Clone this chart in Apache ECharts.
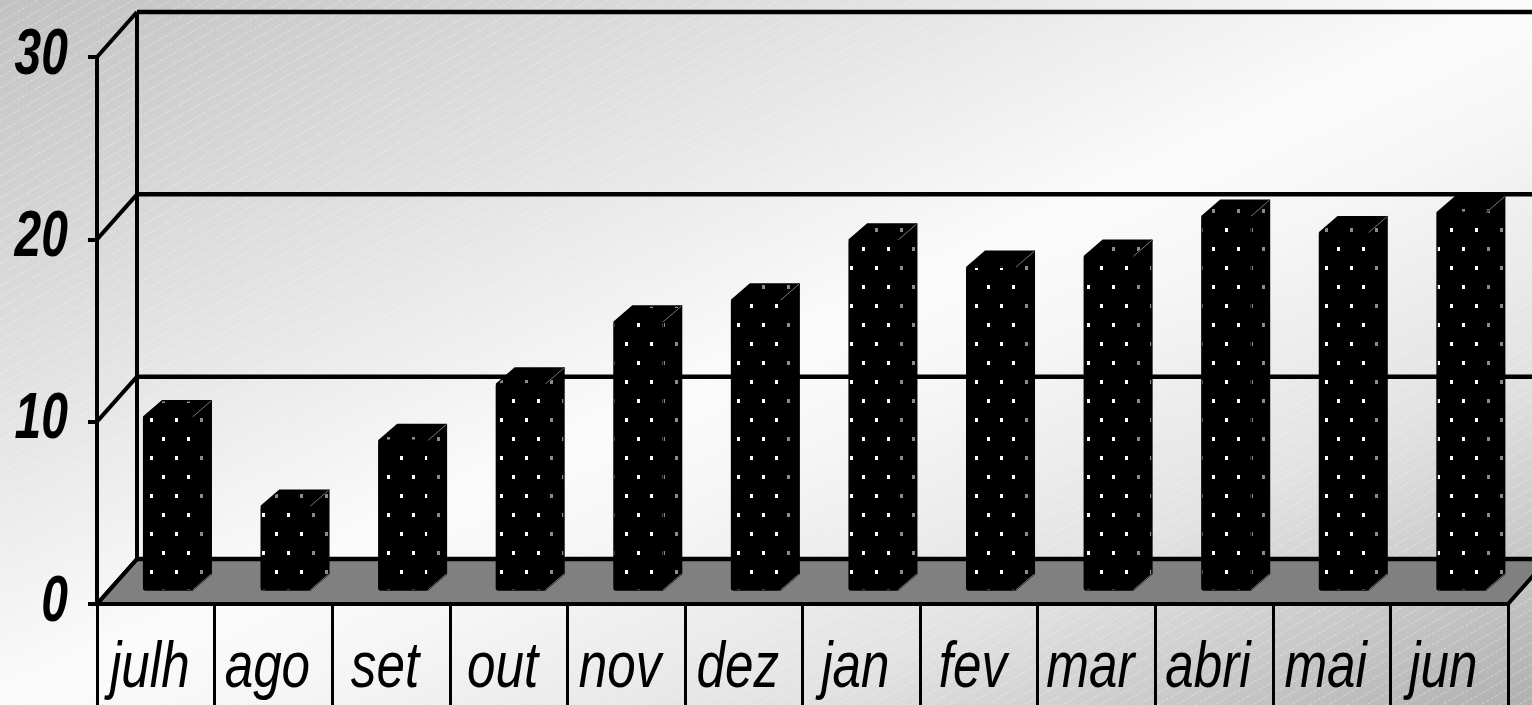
<!DOCTYPE html>
<html>
<head>
<meta charset="utf-8">
<script src="https://cdn.jsdelivr.net/npm/echarts@6/dist/echarts.min.js"></script>
<style>
html,body{margin:0;padding:0;background:#fff;}
#chart{width:1532px;height:705px;}
</style>
</head>
<body>
<div id="chart"></div>
<script>
const categories = ['julh','ago','set','out','nov','dez','jan','fev','mar','abri','mai','jun'];
const values = [9.5, 4.6, 8.2, 11.3, 14.7, 15.9, 19.2, 17.7, 18.3, 20.5, 19.6, 20.7];
const yTicks = [0, 10, 20, 30];

const DX = 40, DY = -45;          // depth of the 3D box
const BAR_FRONT = [12.4, -14];    // bar front face offset
const BAR_DEPTH = [18.5, -16];    // bar depth
const BAR_W = 0.417;
const FONT = "'Liberation Sans','Arial',sans-serif";

function dotPattern(dot) {
  const c = document.createElement('canvas');
  c.width = 25; c.height = 38;
  const g = c.getContext('2d');
  g.fillStyle = '#000'; g.fillRect(0, 0, 25, 38);
  g.fillStyle = dot;
  g.fillRect(0, 0, 3, 4);
  g.fillRect(12, 19, 3, 4);
  return c;
}
function stripePattern() {
  const c = document.createElement('canvas');
  c.width = 38; c.height = 22;
  const g = c.getContext('2d');
  g.strokeStyle = 'rgba(255,255,255,0.4)';
  g.lineWidth = 1;
  g.setLineDash([3, 2]);
  for (let k = -2; k <= 3; k++) {
    g.beginPath();
    g.moveTo(0, 22 + k * 11);
    g.lineTo(38, k * 11);
    g.stroke();
  }
  return c;
}
const frontPat = { image: dotPattern('#ffffff'), repeat: 'repeat' };
const sidePat = { image: dotPattern('#8c8c8c'), repeat: 'repeat' };

const chart = echarts.init(document.getElementById('chart'), null, { renderer: 'canvas' });

const option = {
  animation: false,
  graphic: [
    { type: 'rect', z: -20, silent: true, shape: { x: 0, y: 0, width: 1532, height: 705 },
      style: { fill: new echarts.graphic.LinearGradient(0, 0, 535, 1164, [
        { offset: 0, color: '#c2c2c2' },
        { offset: 0.5, color: '#fbfbfb' },
        { offset: 0.58, color: '#f6f6f6' },
        { offset: 0.76, color: '#e2e2e2' },
        { offset: 1, color: '#b0b0b0' }
      ], true) } },
    { type: 'rect', z: -19, silent: true, shape: { x: 0, y: 0, width: 1532, height: 705 },
      style: { fill: { image: stripePattern(), repeat: 'repeat' } } }
  ],
  grid: { left: 97, right: 24, top: 57, bottom: 101, outerBoundsMode: 'none', containLabel: false },
  xAxis: {
    type: 'category',
    data: categories,
    z: 10,
    axisLine: { lineStyle: { color: '#000', width: 4 } },
    axisTick: { show: true, length: 101, alignWithLabel: false, lineStyle: { color: '#000', width: 3 } },
    axisLabel: { show: false },
    splitLine: { show: false }
  },
  yAxis: {
    type: 'value', min: 0, max: 30, interval: 10,
    z: 10,
    axisLine: { show: true, lineStyle: { color: '#000', width: 4 } },
    axisTick: { show: true, length: 9, lineStyle: { color: '#000', width: 4 } },
    axisLabel: { show: false },
    splitLine: { show: false }
  },
  series: [
    {
      type: 'custom',
      z: 1,
      silent: true,
      data: [[0, 0]],
      renderItem: function (params, api) {
        const cs = params.coordSys;
        const left = cs.x, right = cs.x + cs.width, bottom = cs.y + cs.height, top = cs.y;
        const children = [];
        children.push({
          type: 'polygon',
          shape: { points: [[left, bottom], [right, bottom], [right + DX, bottom + DY], [left + DX, bottom + DY]] },
          style: { fill: '#808080', stroke: '#000', lineWidth: 4, lineJoin: 'round' }
        });
        yTicks.forEach(function (v) {
          const y = api.coord([0, v])[1];
          children.push({ type: 'line', shape: { x1: left + DX, y1: y + DY, x2: right + DX + 60, y2: y + DY },
            style: { stroke: '#000', lineWidth: 4.5 } });
          children.push({ type: 'line', shape: { x1: left, y1: y, x2: left + DX, y2: y + DY },
            style: { stroke: '#000', lineWidth: 4 } });
          // y tick label
          children.push({ type: 'text', x: left - 29, y: y - 1, scaleX: 0.75,
            style: { text: String(v), align: 'right', verticalAlign: 'middle',
              fontSize: 64, fontStyle: 'italic', fontWeight: 'bold', fontFamily: FONT, fill: '#000' } });
        });
        children.push({ type: 'line', shape: { x1: left + DX, y1: top + DY, x2: left + DX, y2: bottom + DY },
          style: { stroke: '#000', lineWidth: 4 } });
        // category labels
        categories.forEach(function (c, i) {
          const x = api.coord([i, 0])[0];
          children.push({ type: 'text', x: x - 6, y: bottom + 65, scaleX: 0.8,
            style: { text: c, align: 'center', verticalAlign: 'middle',
              fontSize: 64, fontStyle: 'italic', fontFamily: FONT, fill: '#000' } });
        });
        return { type: 'group', children: children };
      }
    },
    {
      type: 'custom',
      z: 3,
      silent: true,
      data: values.map(function (v, i) { return [i, v]; }),
      encode: { x: 0, y: 1 },
      renderItem: function (params, api) {
        const i = api.value(0), v = api.value(1);
        const base = api.coord([i, 0]);
        const tp = api.coord([i, v]);
        const cw = api.size([1, 0])[0];
        const bw = cw * BAR_W;
        const x0 = base[0] - bw / 2 + BAR_FRONT[0], x1 = x0 + bw;
        const yb = base[1] + BAR_FRONT[1], yt = tp[1] + BAR_FRONT[1];
        const dx = BAR_DEPTH[0], dy = BAR_DEPTH[1];
        return {
          type: 'group',
          children: [
            { type: 'polygon', shape: { points: [[x1, yt], [x1 + dx, yt + dy], [x1 + dx, yb + dy], [x1, yb]] },
              style: { fill: sidePat, stroke: '#000', lineWidth: 1.5, lineJoin: 'round' } },
            { type: 'polygon', shape: { points: [[x0, yt], [x0 + dx, yt + dy], [x1 + dx, yt + dy], [x1, yt]] },
              style: { fill: sidePat, stroke: '#000', lineWidth: 1.5, lineJoin: 'round' } },
            { type: 'rect', shape: { x: x0, y: yt, width: bw, height: yb - yt, r: 2 },
              style: { fill: frontPat, stroke: '#000', lineWidth: 1.5 } },
            { type: 'line', shape: { x1: x1, y1: yt, x2: x1 + dx, y2: yt + dy },
              style: { stroke: '#777', lineWidth: 1 } },
            { type: 'line', shape: { x1: x1, y1: yb, x2: x1 + dx, y2: yb + dy },
              style: { stroke: '#777', lineWidth: 1 } }
          ]
        };
      }
    }
  ]
};
chart.setOption(option);
</script>
</body>
</html>
